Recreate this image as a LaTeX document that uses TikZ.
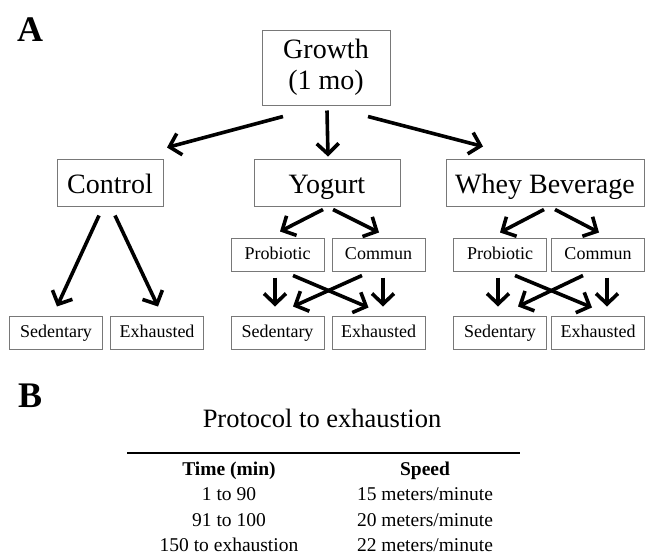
\documentclass[tikz,border=0pt]{standalone}
\usepackage{fontspec}
\setmainfont{Liberation Serif}
\usetikzlibrary{arrows.meta}

\definecolor{boxgray}{RGB}{120,120,120}
\newcommand{\bigfont}{\fontsize{28}{31}\selectfont}
\newcommand{\smallfont}{\fontsize{18}{20}\selectfont}
\newcommand{\tabfont}{\fontsize{19.5}{22}\selectfont}
\newcommand{\titlefont}{\fontsize{26.5}{28}\selectfont}
\newcommand{\panelfont}{\fontsize{36}{36}\selectfont\bfseries}

\tikzset{
	topbox/.style = {draw=boxgray, line width=1pt, font=\bigfont, align=center, inner sep=0pt},
	bigbox/.style = {topbox, minimum height=47pt, text height=22pt, text depth=1pt},
	smallbox/.style = {draw=boxgray, line width=1pt, font=\smallfont, minimum width=93pt, minimum height=33pt, inner sep=0pt, text height=13pt, text depth=4pt},
	arr/.style = {line width=3.6pt, -{Straight Barb[length=10.5pt,width=22pt]}},
	cell/.style = {anchor=base, font=\tabfont, inner sep=0pt}
}

\begin{document}
\begin{tikzpicture}[x=1pt, y=-1pt]
			\useasboundingbox (0,0) rectangle (646,555);

			\node[anchor=base west, font=\panelfont, inner sep=0pt] (labA) at (17,41) {A};
			\node[anchor=base west, font=\panelfont, inner sep=0pt] (labB) at (18,407) {B};

			\node[topbox, minimum width=128pt, minimum height=75pt] (gr) at (326,67.5) {Growth\\(1 mo)};
			\node[bigbox, minimum width=106pt] (ctl) at (110,182.5) {Control};
			\node[bigbox, minimum width=146pt] (yog) at (327,182.5) {Yogurt};
			\node[bigbox, minimum width=198pt] (whey) at (545,182.5) {Whey Beverage};

			\node[smallbox] (yp) at (277.5,254.5) {Probiotic};
			\node[smallbox] (yc) at (378.5,254.5) {Commun};
			\node[smallbox] (wp) at (500,254.5) {Probiotic};
			\node[smallbox] (wc) at (598,254.5) {Commun};

			\node[smallbox] (cs) at (56,333) {Sedentary};
			\node[smallbox] (ce) at (157,333) {Exhausted};
			\node[smallbox] (ys) at (277.5,333) {Sedentary};
			\node[smallbox] (ye) at (378.5,333) {Exhausted};
			\node[smallbox] (ws) at (500,333) {Sedentary};
			\node[smallbox] (we) at (598,333) {Exhausted};

			% growth to the three groups
			\draw[arr] ([xshift=-43pt,yshift=-11pt]gr.south) -- ([xshift=57pt,yshift=11pt]ctl.north);
			\draw[arr] ([xshift=1pt,yshift=-5pt]gr.south) -- ([xshift=1pt,yshift=2pt]yog.north);
			\draw[arr] ([xshift=42pt,yshift=-11pt]gr.south) -- ([xshift=-62pt,yshift=12pt]whey.north);

			% control
			\draw[arr] ([xshift=-11pt,yshift=-9pt]ctl.south) -- ([xshift=1pt,yshift=9.5pt]cs.north);
			\draw[arr] ([xshift=5pt,yshift=-9pt]ctl.south) -- ([xshift=1pt,yshift=9.5pt]ce.north);

			% yogurt
			\draw[arr] ([xshift=-4pt,yshift=-3pt]yog.south) -- ([xshift=2.5pt,yshift=6pt]yp.north);
			\draw[arr] ([xshift=6pt,yshift=-3pt]yog.south) -- ([xshift=0.5pt,yshift=5pt]yc.north);
			\draw[arr] ([xshift=-2.5pt,yshift=-6pt]yp.south) -- ([xshift=-2.5pt,yshift=9.5pt]ys.north);
			\draw[arr] ([xshift=15.5pt,yshift=-4pt]yp.south) -- ([xshift=-10pt,yshift=8.5pt]ye.north);
			\draw[arr] ([xshift=-16.5pt,yshift=-4pt]yc.south) -- ([xshift=15.5pt,yshift=9.5pt]ys.north);
			\draw[arr] ([xshift=4.5pt,yshift=-6pt]yc.south) -- ([xshift=4.5pt,yshift=9.5pt]ye.north);

			% whey beverage
			\draw[arr] ([xshift=-1pt,yshift=-3pt]whey.south) -- ([yshift=5pt]wp.north);
			\draw[arr] ([xshift=10pt,yshift=-3pt]whey.south) -- ([xshift=1pt,yshift=5pt]wc.north);
			\draw[arr] ([xshift=-2pt,yshift=-6pt]wp.south) -- ([xshift=-2pt,yshift=9.5pt]ws.north);
			\draw[arr] ([xshift=15pt,yshift=-4pt]wp.south) -- ([xshift=-6pt,yshift=8.5pt]we.north);
			\draw[arr] ([xshift=-15pt,yshift=-4pt]wc.south) -- ([xshift=18pt,yshift=9.5pt]ws.north);
			\draw[arr] ([xshift=9pt,yshift=-6pt]wc.south) -- ([xshift=9pt,yshift=9.5pt]we.north);

			% protocol table
			\node[anchor=base, font=\titlefont, inner sep=0pt] (title) at (322,427) {Protocol to exhaustion};
			\coordinate (ruleL) at (127,453);
			\coordinate (ruleR) at (520,453);
			\draw[line width=1.8pt] (ruleL) -- (ruleR);

			\node[cell, font=\tabfont\bfseries] (h1) at (229,475) {Time (min)};
			\node[cell, font=\tabfont\bfseries] (h2) at (425,475) {Speed};
			\node[cell] (t1) at (229,500) {1 to 90};
			\node[cell] (s1) at (425,500) {15 meters/minute};
			\node[cell] (t2) at (229,526) {91 to 100};
			\node[cell] (s2) at (425,526) {20 meters/minute};
			\node[cell] (t3) at (229,551) {150 to exhaustion};
			\node[cell] (s3) at (425,551) {22 meters/minute};
		\end{tikzpicture}
\end{document}
